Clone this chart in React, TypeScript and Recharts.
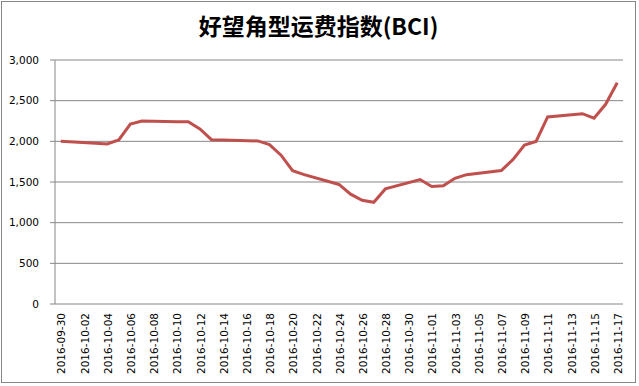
import React from 'react'
import { LineChart, Line, XAxis, YAxis, CartesianGrid } from 'recharts'

// BCI daily values (weekdays only)
const dates = [
  '2016-09-30', '2016-10-03', '2016-10-04', '2016-10-05', '2016-10-06', '2016-10-07',
  '2016-10-10', '2016-10-11', '2016-10-12', '2016-10-13', '2016-10-14',
  '2016-10-17', '2016-10-18', '2016-10-19', '2016-10-20', '2016-10-21',
  '2016-10-24', '2016-10-25', '2016-10-26', '2016-10-27', '2016-10-28',
  '2016-10-31', '2016-11-01', '2016-11-02', '2016-11-03', '2016-11-04',
  '2016-11-07', '2016-11-08', '2016-11-09', '2016-11-10', '2016-11-11',
  '2016-11-14', '2016-11-15', '2016-11-16', '2016-11-17',
]
const bci = [
  2000, 1975, 1968, 2017, 2213, 2250,
  2242, 2240, 2152, 2020, 2015,
  2005, 1960, 1830, 1640, 1590,
  1470, 1350, 1275, 1250, 1415,
  1530, 1445, 1455, 1545, 1590,
  1640, 1775, 1955, 1998, 2300,
  2340, 2285, 2455, 2720,
]
const tickLabels = [
  '2016-09-30', '2016-10-02', '2016-10-04', '2016-10-06', '2016-10-08', '2016-10-10',
  '2016-10-12', '2016-10-14', '2016-10-16', '2016-10-18', '2016-10-20', '2016-10-22',
  '2016-10-24', '2016-10-26', '2016-10-28', '2016-10-30', '2016-11-01', '2016-11-03',
  '2016-11-05', '2016-11-07', '2016-11-09', '2016-11-11', '2016-11-13', '2016-11-15',
  '2016-11-17',
]
const yTicks = [0, 500, 1000, 1500, 2000, 2500, 3000]

const START = Date.UTC(2016, 8, 30)
const dayIndex = (s: string) => {
  const [y, m, d] = s.split('-').map(Number)
  return Math.round((Date.UTC(y, m - 1, d) - START) / 86400000)
}

const data = dates.map((d, i) => ({ x: dayIndex(d), bci: bci[i] }))
const labelTicks = tickLabels.map(dayIndex)
const lastDay = labelTicks[labelTicks.length - 1]
// Excel-style tick marks sit between categories
const markTicks = labelTicks.slice(0, -1).map((t) => t - 0.5).concat([lastDay - 1.5])

const GRAY = '#868686'
const FONT = '"DejaVu Sans", Verdana, sans-serif'

const DateTick = ({ x, y, payload }: any) => {
  const idx = labelTicks.indexOf(payload.value)
  return (
    <g transform={`translate(${x + 1},${y})`}>
      <text
        transform="rotate(-90)"
        x={-9}
        y={0}
        dy="0.35em"
        textAnchor="end"
        fontSize={10.5}
        fontFamily={FONT}
        fill="#000"
      >
        {tickLabels[idx]}
      </text>
    </g>
  )
}

export default function App() {
  return (
    <div style={{ position: 'absolute', left: 0, top: 0, width: 639, height: 386, background: '#fff' }}>
      <div
        style={{
          position: 'absolute',
          left: 1,
          top: 1,
          width: 635,
          height: 382,
          border: `1px solid ${GRAY}`,
          boxSizing: 'border-box',
        }}
      />
      <div
        style={{
          position: 'absolute',
          left: -1,
          top: 14,
          width: 639,
          textAlign: 'center',
          fontFamily: '"Noto Sans CJK SC", sans-serif',
          fontWeight: 700,
          fontSize: 23,
          lineHeight: 1,
          color: '#000',
        }}
      >
        好望角型运费指数(BCI)
      </div>
      <LineChart width={639} height={386} data={data} margin={{ top: 60, right: 16, left: 0, bottom: 0 }}>
        <CartesianGrid xAxisId="lab" vertical={false} stroke={GRAY} strokeWidth={1} />
        <XAxis
          xAxisId="marks"
          type="number"
          dataKey="x"
          domain={[-0.5, lastDay + 0.5]}
          ticks={markTicks}
          interval={0}
          tick={false}
          tickSize={5}
          height={0}
          axisLine={{ stroke: GRAY }}
          tickLine={{ stroke: GRAY }}
        />
        <XAxis
          xAxisId="lab"
          type="number"
          dataKey="x"
          domain={[-0.5, lastDay + 0.5]}
          ticks={labelTicks}
          interval={0}
          tick={<DateTick />}
          tickLine={false}
          axisLine={false}
          tickSize={0}
          tickMargin={0}
          height={82}
        />
        <YAxis
          domain={[0, 3000]}
          ticks={yTicks}
          interval={0}
          width={55}
          tickSize={5}
          tickMargin={11}
          axisLine={{ stroke: GRAY }}
          tickLine={{ stroke: GRAY }}
          tick={{ fontSize: 10.5, fontFamily: FONT, fill: '#000' }}
          tickFormatter={(v: number) => v.toLocaleString('en-US')}
        />
        <Line
          xAxisId="lab"
          type="linear"
          dataKey="bci"
          stroke="#C0504D"
          strokeWidth={3}
          dot={false}
          isAnimationActive={false}
        />
      </LineChart>
    </div>
  )
}
